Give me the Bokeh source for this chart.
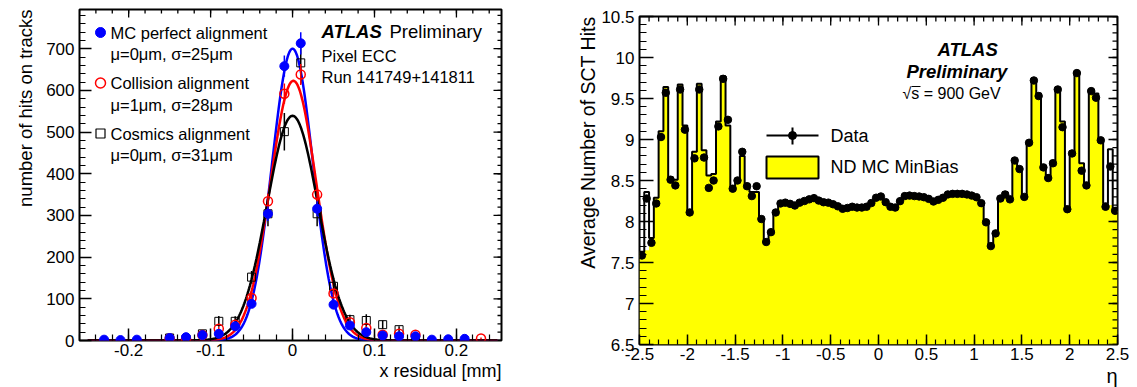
import numpy as np
from bokeh.plotting import figure
from bokeh.models import Label, FixedTicker, Range1d, Title
from bokeh.embed import file_html
from bokeh.resources import INLINE

FONT = "Liberation Sans"

# ---------------- left panel data (x residual, counts) ----------------
mc_x = [-0.23, -0.21, -0.19, -0.15, -0.13, -0.11, -0.09, -0.07, -0.05, -0.03, -0.01,
        0.01, 0.03, 0.05, 0.07, 0.09, 0.11, 0.13, 0.15, 0.17, 0.19, 0.21]
mc_y = [2, 1, 2, 6, 8, 13, 16, 34, 88, 304, 658, 713, 316, 86, 36, 20, 12, 10, 10, 2, 3, 4]
mc_err = [1.4, 1, 1.4, 2.4, 2.8, 3.6, 4, 6, 9.4, 17.4, 25.6, 26.7, 17.8, 9.3, 6, 4.5, 3.5, 3.2, 3.2, 1.4, 1.7, 2]

col_x = [-0.15, -0.13, -0.11, -0.09, -0.07, -0.05, -0.03, -0.01, 0.01, 0.03, 0.05, 0.07,
         0.09, 0.11, 0.13, 0.15, 0.23]
col_y = [5, 4, 13, 28, 38, 102, 334, 592, 638, 350, 113, 44, 30, 14, 16, 14, 5]
col_err = [2.2, 2, 3.6, 5.3, 6.2, 10, 18.3, 24.3, 25.3, 18.7, 10.6, 6.6, 5.5, 3.7, 4, 3.7, 2.2]

cos_x = [-0.15, -0.13, -0.11, -0.09, -0.07, -0.05, -0.03, -0.01, 0.01, 0.03, 0.05, 0.07,
         0.09, 0.11, 0.13, 0.15]
cos_y = [6, 3, 16, 46, 46, 152, 304, 501, 666, 304, 130, 50, 48, 38, 26, 5]
cos_err = [3, 2, 5, 13, 12, 15, 30, 45, 50, 30, 20, 12, 15, 10, 8, 3]

# Gaussian fit parameters (mm) and peak heights
fit_mu = [0.0, 0.001, 0.0]
fit_sigma = [0.025, 0.028, 0.031]
fit_amp = [700, 623, 539]
fit_colors = ["#0000ff", "#ff0000", "#000000"]

left_xticks = [-0.2, -0.1, 0.0, 0.1, 0.2]
left_xlabels = ["-0.2", "-0.1", "0", "0.1", "0.2"]
left_yticks = [0, 100, 200, 300, 400, 500, 600, 700]
left_ylabels = ["0", "100", "200", "300", "400", "500", "600", "700"]

# ---------------- right panel data (eta, average SCT hits) ----------------
eta_data = [7.585, 8.28, 7.74, 8.22, 9.03, 9.57, 8.51, 8.44, 9.61, 9.12,
            8.11, 8.77, 9.61, 8.78, 8.41, 8.50, 9.16, 9.74, 9.24, 8.40,
            8.50, 8.85, 8.43, 8.31, 8.43, 8.03, 7.75, 7.87, 8.11, 8.22,
            8.23, 8.215, 8.195, 8.23, 8.25, 8.27, 8.285, 8.255, 8.235, 8.23,
            8.21, 8.185, 8.155, 8.165, 8.18, 8.17, 8.17, 8.18, 8.225, 8.29,
            8.305, 8.236, 8.18, 8.17, 8.248, 8.31, 8.316, 8.31, 8.305, 8.296,
            8.276, 8.244, 8.264, 8.29, 8.33, 8.337, 8.337, 8.337, 8.33, 8.316,
            8.296, 8.224, 7.99, 7.70, 7.855, 8.28, 8.33, 8.27, 8.744, 8.64,
            8.30, 8.96, 9.72, 9.53, 8.66, 8.53, 8.71, 9.61, 9.15, 8.15,
            8.83, 9.81, 8.62, 8.44, 9.59, 9.51, 8.99, 8.18, 8.67, 8.13]
eta_mc = [7.63, 8.36, 7.80, 8.29, 9.10, 9.64, 8.54, 8.51, 9.67, 9.17,
          8.12, 8.85, 9.68, 8.87, 8.56, 8.58, 9.22, 9.77, 9.17, 8.43,
          8.52, 8.80, 8.46, 8.36, 8.36, 8.05, 7.75, 7.88, 8.10, 8.22,
          8.23, 8.22, 8.20, 8.23, 8.25, 8.27, 8.28, 8.26, 8.24, 8.23,
          8.21, 8.19, 8.16, 8.17, 8.18, 8.17, 8.17, 8.18, 8.22, 8.29,
          8.30, 8.24, 8.18, 8.17, 8.25, 8.31, 8.32, 8.31, 8.30, 8.30,
          8.28, 8.25, 8.26, 8.29, 8.33, 8.34, 8.34, 8.34, 8.33, 8.32,
          8.30, 8.22, 8.00, 7.72, 7.86, 8.30, 8.36, 8.30, 8.75, 8.66,
          8.32, 8.97, 9.74, 9.56, 8.68, 8.56, 8.74, 9.63, 9.22, 8.17,
          8.86, 9.82, 8.71, 8.46, 9.61, 9.56, 9.00, 8.22, 8.88, 8.15]
# yellow fill level where it differs from the outline (edge bins)
fill_override = {1: 7.65, 98: 8.20, 99: 8.13}

right_xticks = [-2.5, -2.0, -1.5, -1.0, -0.5, 0.0, 0.5, 1.0, 1.5, 2.0, 2.5]
right_xlabels = ["-2.5", "-2", "-1.5", "-1", "-0.5", "0", "0.5", "1", "1.5", "2", "2.5"]
right_yticks = [6.5, 7.0, 7.5, 8.0, 8.5, 9.0, 9.5, 10.0, 10.5]
right_ylabels = ["6.5", "7", "7.5", "8", "8.5", "9", "9.5", "10", "10.5"]


def style_axis(ax, ticks, minor, labels, tin, min_in, standoff=5, size="17px"):
    ax.ticker = FixedTicker(ticks=ticks, minor_ticks=minor)
    ax.major_label_overrides = {t: l for t, l in zip(ticks, labels)}
    ax.axis_line_color = None
    ax.major_tick_in = tin
    ax.major_tick_out = 0
    ax.minor_tick_in = min_in
    ax.minor_tick_out = 0
    ax.major_tick_line_color = "black"
    ax.minor_tick_line_color = "black"
    ax.major_tick_line_width = 1.5
    ax.minor_tick_line_width = 1.2
    ax.major_label_text_font = FONT
    ax.major_label_text_color = "black"
    ax.major_label_standoff = standoff
    ax.major_label_text_font_size = size


def mirror_ticks(p, xt, xm, yt, ym, xr, yr, frame_w, frame_h, tlen, mlen):
    """Ticks drawn inside the top and right frame edges (ROOT style)."""
    ux = (xr[1] - xr[0]) / frame_w
    uy = (yr[1] - yr[0]) / frame_h
    for ticks, ln in ((xt, tlen), (xm, mlen)):
        t = np.array(ticks, float)
        p.segment(x0=t, y0=np.full(len(t), yr[1]), x1=t, y1=np.full(len(t), yr[1] - ln * uy),
                  line_color="black", line_width=1.3)
    for ticks, ln in ((yt, tlen), (ym, mlen)):
        t = np.array(ticks, float)
        p.segment(x0=np.full(len(t), xr[1]), y0=t, x1=np.full(len(t), xr[1] - ln * ux), y1=t,
                  line_color="black", line_width=1.3)


def label(p, x, y, text, size, style="normal", align="left"):
    p.add_layout(Label(x=x, y=y, text=text, text_font=FONT, text_font_size=size,
                       text_font_style=style, text_baseline="middle", text_align=align,
                       text_color="black"))


def side_title(p, text, size, side, standoff=0):
    p.add_layout(Title(text=text, align="right", text_font=FONT, text_font_size=size,
                       text_font_style="normal", text_color="black", standoff=standoff), side)


# ======================= LEFT PANEL =======================
LX0, LX1, LPX0, LPX1 = -0.26, 0.255, 79, 501
LY0, LY1, LPY0, LPY1 = 0.0, 794.0, 340, 9


def lx(px):
    return LX0 + (px - LPX0) * (LX1 - LX0) / (LPX1 - LPX0)


def ly(py):
    return LY0 + (LPY0 - py) * (LY1 - LY0) / (LPY0 - LPY1)


p1 = figure(width=560, height=387, x_range=Range1d(LX0, LX1), y_range=Range1d(LY0, LY1),
            output_backend="svg", toolbar_location=None, title=None,
            min_border_left=LPX0, min_border_right=560 - LPX1,
            min_border_top=LPY1, min_border_bottom=387 - LPY0)
p1.xgrid.visible = False
p1.ygrid.visible = False
p1.outline_line_color = "black"
p1.outline_line_width = 2
p1.background_fill_color = "white"
p1.border_fill_color = "white"

lx_minor = [round(v, 3) for v in np.arange(-0.26, 0.2561, 0.02)]
ly_minor = list(range(0, 800, 20))
style_axis(p1.xaxis[0], left_xticks, lx_minor, left_xlabels, 12, 6, standoff=3)
style_axis(p1.yaxis[0], left_yticks, ly_minor, left_ylabels, 12, 6, standoff=5)
mirror_ticks(p1, left_xticks, lx_minor, left_yticks, ly_minor, (LX0, LX1), (LY0, LY1),
             LPX1 - LPX0, LPY0 - LPY1, 8, 4)

# fit curves
xf = np.linspace(-0.25, 0.25, 501)
for mu, sg, amp, c in zip(fit_mu, fit_sigma, fit_amp, fit_colors):
    yf = amp * np.exp(-0.5 * ((xf - mu) / sg) ** 2)
    p1.line(xf, yf, line_color=c, line_width=2.5)


def errbars(p, x, y, e, color, width=1.5):
    x = np.array(x, float)
    y = np.array(y, float)
    e = np.array(e, float)
    p.segment(x0=x, y0=y - e, x1=x, y1=y + e, line_color=color, line_width=width)


errbars(p1, cos_x, cos_y, cos_err, "black")
p1.scatter(cos_x, cos_y, marker="square", size=8, fill_color=None, line_color="black", line_width=1)
errbars(p1, col_x, col_y, col_err, "#ff0000")
p1.scatter(col_x, col_y, marker="circle", size=9, fill_color=None, line_color="#ff0000", line_width=1.5)
errbars(p1, mc_x, mc_y, mc_err, "#0000ff")
p1.scatter(mc_x, mc_y, marker="circle", size=9, fill_color="#0000ff", line_color="#0000ff")

# legend (left)
p1.scatter([lx(100)], [ly(32)], marker="circle", size=10, fill_color="#0000ff", line_color="#0000ff")
p1.scatter([lx(100)], [ly(82.5)], marker="circle", size=10, fill_color=None, line_color="#ff0000", line_width=1.5)
p1.scatter([lx(100)], [ly(133)], marker="square", size=9, fill_color=None, line_color="black", line_width=1.2)

leg_texts = [("MC perfect alignment", 32), ("\u03bc=0\u03bcm, \u03c3=25\u03bcm", 53),
             ("Collision alignment", 82.5), ("\u03bc=1\u03bcm, \u03c3=28\u03bcm", 104),
             ("Cosmics alignment", 133), ("\u03bc=0\u03bcm, \u03c3=31\u03bcm", 154)]
for t, py in leg_texts:
    label(p1, lx(110), ly(py), t, "16.5px")

label(p1, lx(321), ly(30.5), "ATLAS", "18.5px", style="bold italic")
label(p1, lx(389), ly(30.5), "Preliminary", "18.5px")
label(p1, lx(321), ly(55), "Pixel ECC", "16.5px")
label(p1, lx(321), ly(76.5), "Run 141749+141811", "16.5px")

side_title(p1, "x residual [mm]", "18px", "below", 0)
side_title(p1, "number of hits on tracks", "18.5px", "left", 15)

# ======================= RIGHT PANEL =======================
RX0, RX1, RPX0, RPX1 = -2.5, 2.5, 639, 1117
RY0, RY1, RPY0, RPY1 = 6.5, 10.5, 344, 16
W2 = 1137 - 560


def rx(px):
    return RX0 + (px - RPX0) * (RX1 - RX0) / (RPX1 - RPX0)


def ry(py):
    return RY0 + (RPY0 - py) * (RY1 - RY0) / (RPY0 - RPY1)


p2 = figure(width=W2, height=387, x_range=Range1d(RX0, RX1), y_range=Range1d(RY0, RY1),
            output_backend="svg", toolbar_location=None, title=None,
            min_border_left=RPX0 - 560, min_border_right=1137 - RPX1,
            min_border_top=RPY1, min_border_bottom=387 - RPY0)
p2.xgrid.visible = False
p2.ygrid.visible = False
p2.outline_line_color = "black"
p2.outline_line_width = 2
p2.background_fill_color = "white"
p2.border_fill_color = "white"

rx_minor = [round(v, 2) for v in np.arange(-2.5, 2.501, 0.1)]
ry_minor = [round(v, 2) for v in np.arange(6.5, 10.501, 0.1)]
style_axis(p2.xaxis[0], right_xticks, rx_minor, right_xlabels, 10, 5, standoff=3)
style_axis(p2.yaxis[0], right_yticks, ry_minor, right_ylabels, 14, 7, standoff=5)

edges = np.linspace(-2.5, 2.5, len(eta_data) + 1)
centers = 0.5 * (edges[:-1] + edges[1:])
fill_vals = [fill_override.get(i, v) for i, v in enumerate(eta_mc)]

px_, py_ = [edges[0]], [RY0]
for i, v in enumerate(fill_vals):
    px_ += [edges[i], edges[i + 1]]
    py_ += [v, v]
px_.append(edges[-1])
py_.append(RY0)
p2.patch(px_, py_, fill_color="#ffff00", line_color=None)

ox, oy = [], []
for i, v in enumerate(eta_mc):
    ox += [edges[i], edges[i + 1]]
    oy += [v, v]
p2.line(ox, oy, line_color="black", line_width=2)

p2.scatter(centers, eta_data, marker="circle", size=7.5, fill_color="black", line_color="black")

mirror_ticks(p2, right_xticks, rx_minor, right_yticks, ry_minor, (RX0, RX1), (RY0, RY1),
             RPX1 - RPX0, RPY0 - RPY1, 9, 5)

# legend (right)
p2.quad(left=rx(766), right=rx(818), bottom=ry(178), top=ry(156), fill_color="#ffff00",
        line_color="black", line_width=2)
p2.segment(x0=rx(766), y0=ry(135), x1=rx(818), y1=ry(135), line_color="black", line_width=2)
p2.segment(x0=rx(792), y0=ry(127), x1=rx(792), y1=ry(144), line_color="black", line_width=2)
p2.scatter([rx(792)], [ry(135)], marker="circle", size=8, fill_color="black", line_color="black")
label(p2, rx(830), ry(135.5), "Data", "18px")
label(p2, rx(830), ry(166), "ND MC MinBias", "18px")

label(p2, rx(937), ry(49), "ATLAS", "18.5px", style="bold italic")
label(p2, rx(906), ry(71), "Preliminary", "18.5px", style="bold italic")
label(p2, rx(902), ry(93), "\u221as = 900 GeV", "16px")
# overline of the square root
p2.segment(x0=rx(911), y0=ry(86), x1=rx(920), y1=ry(86), line_color="black", line_width=1)

side_title(p2, "\u03b7", "20px", "below", 0)
side_title(p2, "Average Number of SCT Hits", "19.5px", "left", 0)

# place the two independent plots side by side (no shared border alignment)
TEMPLATE = """
{% block contents %}
{% from macros import embed %}
<div style="display:flex;flex-direction:row;align-items:flex-start;">
{% for doc in docs %}
{% for root in doc.roots %}
{{ embed(root) }}
{% endfor %}
{% endfor %}
</div>
{% endblock %}
"""

open("out.html", "w").write(file_html([p1, p2], INLINE, template=TEMPLATE))
